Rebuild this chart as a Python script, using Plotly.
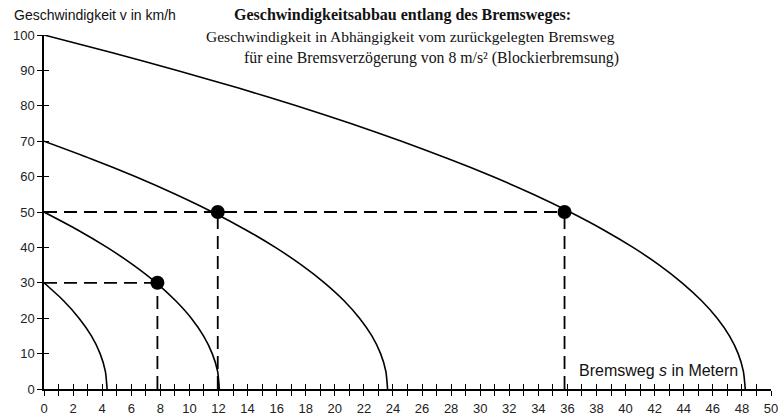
import plotly.graph_objects as go

# Curves: (s in m, v in km/h)
curve100_s = [0, 4.70, 9.16, 13.38, 17.36, 21.10, 24.59, 27.85, 30.86, 33.64, 36.17, 38.46, 40.51, 42.32, 43.88, 45.21, 46.30, 47.14, 47.74, 48.10, 48.23]
curve100_v = [100, 95, 90, 85, 80, 75, 70, 65, 60, 55, 50, 45, 40, 35, 30, 25, 20, 15, 10, 5, 0]
curve70_s = [0, 3.26, 6.27, 9.04, 11.57, 13.86, 15.91, 17.72, 19.29, 20.62, 21.70, 22.55, 23.15, 23.51, 23.63]
curve70_v = [70, 65, 60, 55, 50, 45, 40, 35, 30, 25, 20, 15, 10, 5, 0]
curve50_s = [0, 2.29, 4.34, 6.15, 7.72, 9.04, 10.13, 10.97, 11.57, 11.94, 12.06]
curve50_v = [50, 45, 40, 35, 30, 25, 20, 15, 10, 5, 0]
curve30_s = [0, 1.33, 2.41, 3.26, 3.86, 4.22, 4.34]
curve30_v = [30, 25, 20, 15, 10, 5, 0]

# Marked points
point_s = [7.8, 11.95, 35.8]
point_v = [30, 50, 50]

x_tick_vals = list(range(0, 51))
x_tick_labels = [str(v) if v % 2 == 0 else "" for v in x_tick_vals]
y_tick_vals = list(range(0, 101, 10))
y_tick_labels = [str(v) for v in y_tick_vals]

fig = go.Figure()

black = "#000000"
# dashed guide lines
for s, v in zip(point_s, point_v):
    fig.add_trace(go.Scatter(x=[0, s], y=[v, v], mode="lines",
                             line=dict(color=black, width=1.8, dash="13px,7px"),
                             hoverinfo="skip", showlegend=False, cliponaxis=False))
    fig.add_trace(go.Scatter(x=[s, s], y=[0, v], mode="lines",
                             line=dict(color=black, width=1.8, dash="13px,7px"),
                             hoverinfo="skip", showlegend=False, cliponaxis=False))

for xs, ys in [(curve100_s, curve100_v), (curve70_s, curve70_v),
               (curve50_s, curve50_v), (curve30_s, curve30_v)]:
    fig.add_trace(go.Scatter(x=xs, y=ys, mode="lines",
                             line=dict(color=black, width=1.6, shape="spline", smoothing=0.6),
                             showlegend=False, cliponaxis=False))

fig.add_trace(go.Scatter(x=point_s, y=point_v, mode="markers",
                         marker=dict(color=black, size=14),
                         showlegend=False, cliponaxis=False))

L, R, T, B = 44, 7, 35, 29
W, H = 778, 418
pw, ph = W - L - R, H - T - B

def px(x):
    return (x - L) / pw

def py(y):
    return (H - B - y) / ph

tickfont = dict(family="Liberation Sans, Arial, sans-serif", size=13, color="#222222")

fig.update_layout(
    width=W, height=H,
    margin=dict(l=L, r=R, t=T, b=B, autoexpand=False),
    paper_bgcolor="white", plot_bgcolor="white",
    xaxis=dict(range=[0, 50], tickvals=x_tick_vals, ticktext=x_tick_labels,
               ticks="outside", ticklen=5, tickwidth=1, tickcolor=black,
               showline=True, linecolor=black, linewidth=1.5, automargin=False,
               showgrid=False, zeroline=False, tickfont=tickfont,
               ticklabelstandoff=2, ticklabeloverflow="allow"),
    yaxis=dict(range=[0, 100], tickvals=y_tick_vals, ticktext=y_tick_labels,
               ticks="outside", ticklen=5, tickwidth=1, tickcolor=black,
               showline=True, linecolor=black, linewidth=1.5, automargin=False,
               showgrid=False, zeroline=False, tickfont=tickfont,
               ticklabeloverflow="allow"),
    xaxis2=dict(range=[0, 50], overlaying="x", tickvals=x_tick_vals, automargin=False,
                ticks="inside", ticklen=5, tickwidth=1, tickcolor=black,
                showticklabels=False, showline=False, showgrid=False, zeroline=False),
    yaxis2=dict(range=[0, 100], overlaying="y", tickvals=y_tick_vals, automargin=False,
                ticks="inside", ticklen=5, tickwidth=1, tickcolor=black,
                showticklabels=False, showline=False, showgrid=False, zeroline=False),
)
# dummy trace to activate overlay axes
fig.add_trace(go.Scatter(x=[None], y=[None], xaxis="x2", yaxis="y2", showlegend=False))

serif = "Liberation Serif, Times New Roman, serif"
sans = "Liberation Sans, Arial, sans-serif"
ann = [
    dict(text="Geschwindigkeit v in km/h", x=px(12), y=py(15), font=dict(family=sans, size=14, color="#111")),
    dict(text="<b>Geschwindigkeitsabbau entlang des Bremsweges:</b>", x=px(232), y=py(15), font=dict(family=serif, size=16, color="#111")),
    dict(text="Geschwindigkeit in Abhängigkeit vom zurückgelegten Bremsweg", x=px(204), y=py(37), font=dict(family=serif, size=15.5, color="#111")),
    dict(text="für eine Bremsverzögerung von 8 m/s² (Blockierbremsung)", x=px(242), y=py(58), font=dict(family=serif, size=15.8, color="#111")),
    dict(text="Bremsweg <i>s</i> in Metern", x=px(577), y=py(370), font=dict(family=sans, size=16, color="#111")),
]
for a in ann:
    fig.add_annotation(xref="paper", yref="paper", xanchor="left", yanchor="middle",
                       showarrow=False, **a)

fig.write_html("out.html", config={"displayModeBar": False},
               post_script="document.body.style.margin='0';document.body.style.overflow='hidden';")
